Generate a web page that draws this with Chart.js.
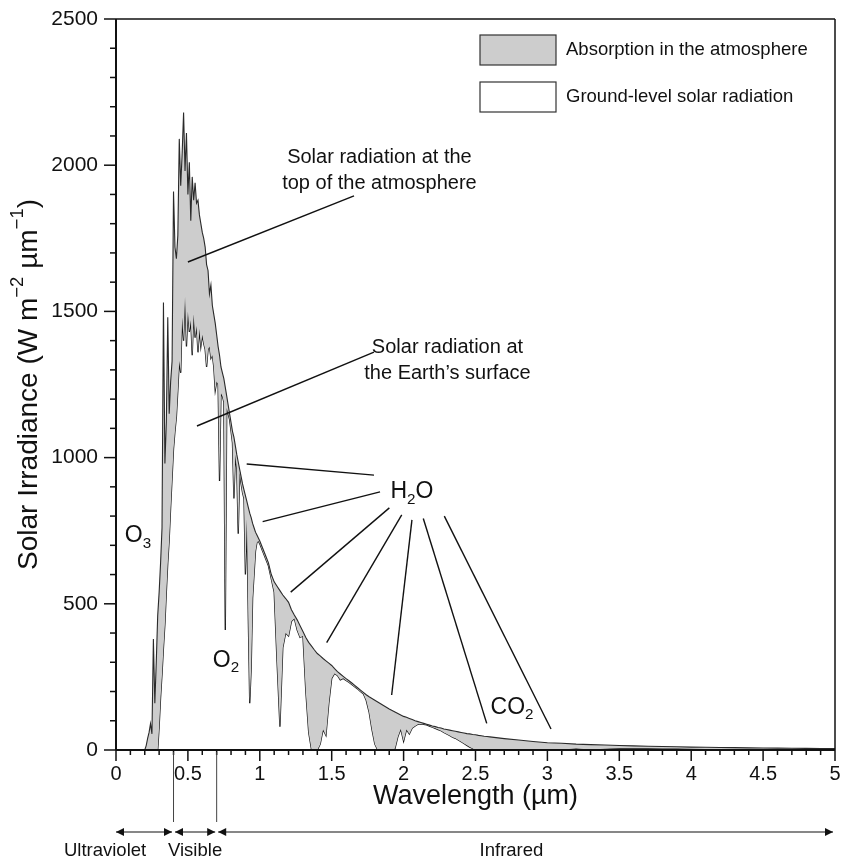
<!DOCTYPE html>
<html><head><meta charset="utf-8">
<script src="https://cdn.jsdelivr.net/npm/chart.js@4.4.1/dist/chart.umd.min.js"></script>
<style>html,body{margin:0;padding:0;background:#fff}#wrap{width:845px;height:859px;position:relative}</style>
</head><body><div id="wrap"><canvas id="c"></canvas></div>
<script>
// ---------- DATA ----------
const wavelength = [
0.20,0.21,0.22,0.23,0.24,0.25,0.26,0.27,0.28,0.29,
0.30,0.31,0.32,0.33,0.34,0.35,0.36,0.37,0.38,0.39,
0.40,0.41,0.42,0.43,0.44,0.45,0.46,0.47,0.48,0.49,
0.50,0.51,0.52,0.53,0.54,0.55,0.56,0.57,0.58,0.59,
0.60,0.61,0.62,0.63,0.64,0.65,0.66,0.67,0.68,0.69,
0.70,0.71,0.72,0.73,0.74,0.75,0.76,0.77,0.78,0.79,
0.80,0.81,0.82,0.83,0.84,0.85,0.86,0.87,0.88,0.89,
0.90,0.91,0.92,0.93,0.94,0.95,0.96,0.97,0.98,0.99,
1.00,
1.02,1.04,1.06,1.08,1.10,1.12,1.14,1.16,1.18,1.20,
1.22,1.24,1.26,1.28,1.30,1.32,1.34,1.36,1.38,1.40,
1.42,1.44,1.46,1.48,1.50,1.52,1.54,1.56,1.58,1.60,
1.62,1.64,1.66,1.68,1.70,1.72,1.74,1.76,1.78,1.80,
1.82,1.84,1.86,1.88,1.90,1.92,1.94,1.96,1.98,2.00,
2.02,2.04,2.06,2.08,2.10,2.12,2.14,2.16,2.18,2.20,
2.22,2.24,2.26,2.28,2.30,2.32,2.34,2.36,2.38,2.40,
2.42,2.44,2.46,2.48,2.50,2.52,2.54,2.56,2.58,2.60,
2.7,2.8,2.9,3.0,3.1,3.2,3.3,3.4,3.5,3.6,3.7,3.8,3.9,4.0,
4.1,4.2,4.3,4.4,4.5,4.6,4.7,4.8,4.9,5.0
];
const topOfAtmosphere = [
0,15,40,60,90,55,380,160,300,460,
540,640,760,1530,980,1120,1480,1150,1260,1330,
1910,1720,1680,1760,2090,1930,2040,2180,1980,2110,
1900,2010,1810,1960,1880,1940,1870,1880,1830,1800,
1770,1750,1720,1660,1640,1560,1590,1520,1490,1460,
1420,1380,1350,1310,1290,1270,1240,1210,1180,1150,
1120,1090,1070,1040,1010,985,960,935,910,890,
870,850,830,810,795,775,760,745,735,725,
715,
690,665,640,600,575,560,545,530,518,505,
480,462,445,425,405,385,368,355,342,330,
322,313,305,297,289,278,268,260,252,244,
237,229,221,213,205,197,189,182,176,170,
164,158,152,146,140,135,130,125,120,115,
112,108,104,100,97,94,91,88,85,82,
80,77,75,72,70,68,66,64,62,60,
58,56,55,53,52,50,49,47,46,45,
39,34,29,25,23,20,18.5,17,15.5,14,13,12,11,10,
9.2,8.5,8,7.4,6.9,6.4,6,5.6,5.2,4.8
];
const groundLevel = [
0,0,0,0,0,0,0,0,0,0,
80,180,260,350,430,540,640,720,830,930,
1030,1090,1140,1230,1330,1290,1480,1400,1550,1380,
1500,1430,1470,1350,1490,1410,1450,1360,1440,1380,
1420,1390,1370,1310,1370,1380,1340,1350,1310,1230,
1260,1250,920,1220,1210,1190,410,1170,1150,1130,
1090,1050,860,1010,960,740,950,910,880,860,
600,790,450,160,280,520,600,680,710,715,
705,
680,655,630,585,540,300,80,350,400,390,
440,450,410,385,390,200,60,0,0,0,
20,70,50,160,245,262,255,240,245,238,
232,224,216,209,200,192,170,130,70,20,
0,0,0,0,0,0,5,45,72,30,
70,55,75,82,88,89,88,86,82,78,
74,70,66,60,55,50,44,40,34,28,
22,16,10,5,0,0,0,0,0,0,
0,0,0,3,2,5,2,4,6,6,6,5,5,4,
3,1,0,0,1,1,1,1,1,1
];
const xTickLabels = ['0','0.5','1','1.5','2','2.5','3','3.5','4','4.5','5'];
const yTickLabels = ['0','500','1000','1500','2000','2500'];
const legendLabels = ['Absorption in the atmosphere','Ground-level solar radiation'];
const bandNames = ['Ultraviolet','Visible','Infrared'];
const bandEdges = [0, 0.4, 0.7, 5];

// ---------- STYLE / HELPERS ----------
const FONT = '"Liberation Sans", Arial, Helvetica, sans-serif';
function f(size){ return size + 'px ' + FONT; }
function richText(ctx, parts, x, y, size, align){
  const segs = parts.map(p => {
    const s = (p.sub || p.sup) ? size * 0.66 : size;
    ctx.font = f(s);
    return {t:p.t, s, w:ctx.measureText(p.t).width, dy: p.sub ? size*0.32 : (p.sup ? -size*0.38 : 0)};
  });
  const total = segs.reduce((a,b)=>a+b.w,0);
  let cx = align === 'center' ? x - total/2 : (align === 'right' ? x - total : x);
  ctx.textAlign = 'left';
  ctx.textBaseline = 'middle';
  segs.forEach(sg => { ctx.font = f(sg.s); ctx.fillText(sg.t, cx, y + sg.dy); cx += sg.w; });
}
function seg(ctx,x1,y1,x2,y2){ ctx.beginPath(); ctx.moveTo(x1,y1); ctx.lineTo(x2,y2); ctx.stroke(); }

// annotation geometry in data units (µm, W m-2 µm-1)
const pointerLines = [
  [[0.50,1669],[1.655,1895]],
  [[0.563,1108],[1.794,1361]],
  [[0.909,978],[1.794,940]],
  [[1.020,781],[1.836,883]],
  [[1.215,540],[1.901,828]],
  [[1.465,367],[1.987,804]],
  [[1.917,188],[2.058,787]],
  [[2.578,91],[2.137,792]],
  [[3.025,72],[2.283,800]]
];
const notes = [
  {at:[1.832,2028], size:20, parts:[{t:'Solar radiation at the'}]},
  {at:[1.832,1939], size:20, parts:[{t:'top of the atmosphere'}]},
  {at:[2.305,1375], size:20, parts:[{t:'Solar radiation at'}]},
  {at:[2.305,1286], size:20, parts:[{t:'the Earth’s surface'}]},
  {at:[2.058,882], size:23, parts:[{t:'H'},{t:'2',sub:true},{t:'O'}]},
  {at:[0.153,732], size:23, parts:[{t:'O'},{t:'3',sub:true}]},
  {at:[0.765,305], size:23, parts:[{t:'O'},{t:'2',sub:true}]},
  {at:[2.754,144], size:23, parts:[{t:'CO'},{t:'2',sub:true}]}
];

const decor = {
  id:'decor',
  afterDatasetsDraw(chart){
    const {ctx, chartArea:a, scales:{x,y}} = chart;
    ctx.save();
    ctx.strokeStyle = '#111'; ctx.lineWidth = 1.4;
    pointerLines.forEach(([p,q]) => seg(ctx, x.getPixelForValue(p[0]), y.getPixelForValue(p[1]), x.getPixelForValue(q[0]), y.getPixelForValue(q[1])));
    ctx.fillStyle = '#111';
    notes.forEach(n => richText(ctx, n.parts, x.getPixelForValue(n.at[0]), y.getPixelForValue(n.at[1]), n.size, 'center'));
    // legend
    const lx = a.left + 364, ly = a.top + 16, w = 76, h = 30;
    ctx.lineWidth = 1.2; ctx.strokeStyle = '#333';
    ctx.fillStyle = '#cdcdcd'; ctx.fillRect(lx, ly, w, h); ctx.strokeRect(lx, ly, w, h);
    ctx.fillStyle = '#fff'; ctx.fillRect(lx, ly+47, w, h); ctx.strokeRect(lx, ly+47, w, h);
    ctx.fillStyle = '#111';
    ctx.font = f(18.5); ctx.textAlign = 'left'; ctx.textBaseline = 'middle';
    ctx.fillText(legendLabels[0], lx + w + 10, ly + h/2);
    ctx.fillText(legendLabels[1], lx + w + 10, ly + 47 + h/2);
    ctx.restore();
  },
  afterDraw(chart){
    const {ctx, chartArea:a, scales:{x,y}} = chart;
    ctx.save();
    ctx.strokeStyle = '#111';
    ctx.lineWidth = 1.5;
    seg(ctx, a.left, a.top, a.right, a.top);
    seg(ctx, a.right, a.top, a.right, a.bottom);
    ctx.lineWidth = 2;
    seg(ctx, a.left, a.top, a.left, a.bottom);
    seg(ctx, a.left, a.bottom, a.right, a.bottom);
    ctx.lineWidth = 1.5;
    for (let v = 0; v <= 2500; v += 100) {
      const py = y.getPixelForValue(v), len = v % 500 === 0 ? 12 : 6;
      seg(ctx, a.left - len, py, a.left, py);
    }
    for (let i = 0; i <= 50; i++) {
      const px = x.getPixelForValue(i/10), len = i % 5 === 0 ? 11 : 5;
      seg(ctx, px, a.bottom, px, a.bottom + len);
    }
    // axis titles
    ctx.fillStyle = '#111';
    ctx.font = f(27); ctx.textAlign = 'center'; ctx.textBaseline = 'middle';
    ctx.fillText('Wavelength (µm)', (a.left + a.right)/2, a.bottom + 47);
    ctx.save();
    ctx.translate(29, (a.top + a.bottom)/2);
    ctx.rotate(-Math.PI/2);
    richText(ctx, [{t:'Solar Irradiance (W m'},{t:'−2',sup:true},{t:' µm'},{t:'−1',sup:true},{t:')'}], 0, 0, 28, 'center');
    ctx.restore();
    // spectral bands
    ctx.strokeStyle = '#444'; ctx.lineWidth = 1;
    [bandEdges[1], bandEdges[2]].forEach(v => { const px = x.getPixelForValue(v); seg(ctx, px, a.bottom + 2, px, a.bottom + 72); });
    const ay = a.bottom + 82;
    ctx.strokeStyle = '#111'; ctx.fillStyle = '#111'; ctx.lineWidth = 1.2;
    const head = (px, dir) => { ctx.beginPath(); ctx.moveTo(px, ay); ctx.lineTo(px - dir*8, ay - 4); ctx.lineTo(px - dir*8, ay + 4); ctx.closePath(); ctx.fill(); };
    for (let i = 0; i < 3; i++) {
      const p1 = x.getPixelForValue(bandEdges[i]) + (i ? 1.5 : 0), p2 = x.getPixelForValue(bandEdges[i+1]) - (i < 2 ? 1.5 : 2);
      seg(ctx, p1, ay, p2, ay); head(p1, -1); head(p2, 1);
    }
    const labelAt = [-0.076, 0.55, 2.75];
    ctx.font = f(18.5); ctx.textAlign = 'center'; ctx.textBaseline = 'middle';
    bandNames.forEach((n, i) => ctx.fillText(n, x.getPixelForValue(labelAt[i]), a.bottom + 101));
    ctx.restore();
  }
};

new Chart(document.getElementById('c'), {
  type: 'line',
  data: {
    datasets: [
      { label: 'Top of atmosphere', data: wavelength.map((w,i)=>({x:w, y:topOfAtmosphere[i]})),
        borderColor:'#2a2a2a', borderWidth:1.1, pointRadius:0, fill:'+1', backgroundColor:'#cdcdcd', tension:0 },
      { label: 'Ground level', data: wavelength.map((w,i)=>({x:w, y:groundLevel[i]})),
        borderColor:'#111', borderWidth:1.3, pointRadius:0, fill:false, tension:0 }
    ]
  },
  options: {
    responsive:true, maintainAspectRatio:false, animation:false, devicePixelRatio:1, events:[],
    layout:{ padding:{ left:0, right:10, top:19, bottom:0 } },
    plugins:{ legend:{display:false}, tooltip:{enabled:false} },
    scales:{
      x:{ type:'linear', min:0, max:5,
          grid:{display:false, drawTicks:false}, border:{display:false},
          ticks:{ stepSize:0.5, padding:12, color:'#111', font:{family:FONT, size:20}, maxRotation:0, autoSkip:false,
                  callback:(v)=> xTickLabels[Math.round(v*2)] },
          afterFit:(s)=>{ s.height = 109; s.paddingLeft = 0; s.paddingRight = 0; } },
      y:{ min:0, max:2500,
          grid:{display:false, drawTicks:false}, border:{display:false},
          ticks:{ stepSize:500, padding:18, color:'#111', font:{family:FONT, size:21},
                  callback:(v)=> yTickLabels[Math.round(v/500)] },
          afterFit:(s)=>{ s.width = 116; s.paddingTop = 0; s.paddingBottom = 0; } }
    }
  },
  plugins:[decor]
});
</script>
</body></html>
